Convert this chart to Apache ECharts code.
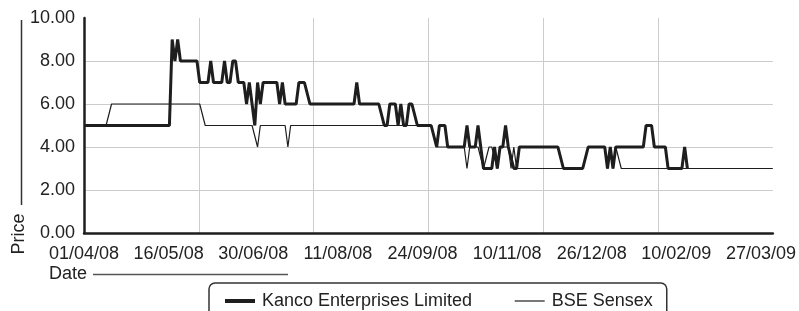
<!DOCTYPE html>
<html lang="en">
<head>
  <meta charset="UTF-8">
  <title>Kanco Enterprises Limited vs BSE Sensex</title>
  <script src="https://cdn.jsdelivr.net/npm/echarts@6/dist/echarts.min.js"></script>
</head>
<body>
<div id="chart"></div>
<style>
  html, body {
    margin: 0;
    width: 100%;
    height: 100%;
    background: #fff;
  }
  #chart {
    width: 799px;
    height: 311px;
  }
</style>
<script>
  // x = trading day index from 01/04/08, y = price
  const kancoDay = [0, 31, 32, 33, 34, 35, 41, 42, 45, 46, 47, 50, 51, 52, 53, 54, 55, 56, 58, 59,
    60, 61, 62, 63, 64, 65, 70, 71, 72, 73, 77, 78, 80, 82, 98, 99, 100, 107, 109, 110,
    111, 113, 114, 115, 116, 117, 118, 119, 121, 126, 128, 129, 131, 132, 138, 139, 140, 142, 143, 145,
    148, 149, 150, 151, 152, 153, 154, 156, 157, 158, 172, 174, 181, 183, 189, 190, 191, 192, 193, 203,
    204, 206, 207, 211, 212, 217, 218, 219];
  const kancoPrice = [5, 5, 9, 8, 9, 8, 8, 7, 7, 8, 7, 7, 8, 7, 7, 8, 8, 7, 7, 6,
    7, 6, 5, 7, 6, 7, 7, 6, 7, 6, 6, 7, 7, 6, 6, 7, 6, 6, 5, 5,
    6, 6, 5, 6, 5, 5, 6, 6, 5, 5, 4, 5, 5, 4, 4, 5, 4, 4, 5, 3,
    3, 4, 3, 4, 4, 5, 4, 3, 3, 4, 4, 3, 3, 4, 4, 3, 4, 3, 4, 4,
    5, 5, 4, 4, 3, 3, 4, 3];

  const sensexDay = [0, 8, 10, 42, 44, 61, 63, 64, 73, 74, 75, 126, 128, 138, 139, 140, 143, 145, 147, 148,
    150, 151, 154, 155, 156, 157, 181, 183, 189, 190, 191, 192, 193, 195, 250];
  const sensexPrice = [5, 5, 6, 6, 5, 5, 4, 5, 5, 4, 5, 5, 4, 4, 3, 4, 4, 3, 4, 4,
    3, 4, 4, 3, 4, 3, 3, 4, 4, 3, 4, 3, 4, 3, 3];

  const dateLabels = ['01/04/08', '16/05/08', '30/06/08', '11/08/08', '24/09/08',
    '10/11/08', '26/12/08', '10/02/09', '27/03/09'];

  const FONT = '"Liberation Sans", Arial, sans-serif';
  const INK = '#1e1e1e';

  function zip(xs, ys) {
    return xs.map((x, i) => [x, ys[i]]);
  }

  const chart = echarts.init(document.getElementById('chart'));
  chart.setOption({
    animation: false,
    textStyle: { fontFamily: FONT },
    grid: { left: 84, right: 24, top: 18, bottom: 78 },
    legend: {
      left: 209,
      top: 283,
      padding: [9, 14, 9, 14],
      itemGap: 42,
      itemWidth: 30,
      itemHeight: 14,
      borderColor: '#333',
      borderWidth: 1.5,
      borderRadius: 6,
      itemStyle: { opacity: 0 },
      textStyle: { fontFamily: FONT, fontSize: 18, color: '#222', padding: [0, 0, 0, 2] },
      data: [
        { name: 'Kanco Enterprises Limited', lineStyle: { width: 4 } },
        { name: 'BSE Sensex', lineStyle: { width: 1.2 } }
      ]
    },
    xAxis: [{
      type: 'value',
      min: 0,
      max: 250,
      position: 'bottom',
      axisLine: { show: true, lineStyle: { color: INK, width: 2.5 } },
      axisTick: { show: false },
      axisLabel: { show: false },
      splitLine: { show: false }
    }, {
      type: 'value',
      min: 0,
      max: 8.14,
      interval: 1,
      position: 'bottom',
      axisLine: { show: false },
      axisTick: { show: false },
      splitLine: { show: false },
      axisLabel: {
        margin: 12,
        fontSize: 18,
        color: '#222',
        fontFamily: FONT,
        formatter: v => dateLabels[v] || ''
      }
    }, {
      type: 'value',
      min: 0,
      max: 6,
      interval: 1,
      position: 'top',
      axisLine: { show: false },
      axisTick: { show: false },
      axisLabel: { show: false },
      splitLine: {
        show: true,
        showMinLine: false,
        showMaxLine: false,
        lineStyle: { color: '#cccccc', width: 1 }
      }
    }],
    yAxis: {
      type: 'value',
      min: 0,
      max: 10,
      interval: 2,
      axisLine: { show: true, lineStyle: { color: INK, width: 2.5 } },
      axisTick: { show: false },
      axisLabel: {
        margin: 9,
        fontSize: 18,
        color: '#222',
        fontFamily: FONT,
        formatter: v => v.toFixed(2)
      },
      splitLine: {
        show: true,
        showMinLine: false,
        showMaxLine: false,
        lineStyle: { color: '#cccccc', width: 1 }
      }
    },
    series: [{
      name: 'Kanco Enterprises Limited',
      type: 'line',
      xAxisIndex: 0,
      symbol: 'none',
      color: INK,
      lineStyle: { color: INK, width: 3 },
      data: zip(kancoDay, kancoPrice)
    }, {
      name: 'BSE Sensex',
      type: 'line',
      xAxisIndex: 0,
      symbol: 'none',
      color: INK,
      lineStyle: { color: INK, width: 1.2 },
      data: zip(sensexDay, sensexPrice)
    }],
    graphic: [
      {
        type: 'text', x: 19, y: 234, rotation: Math.PI / 2,
        style: { text: 'Price', fontSize: 18, fontFamily: FONT, fill: '#222', align: 'center', verticalAlign: 'middle' }
      },
      {
        type: 'line', shape: { x1: 21.5, y1: 20, x2: 21.5, y2: 205 },
        style: { stroke: '#333', lineWidth: 1.5 }
      },
      {
        type: 'text', x: 49, y: 274,
        style: { text: 'Date', fontSize: 18, fontFamily: FONT, fill: '#222', align: 'left', verticalAlign: 'middle' }
      },
      {
        type: 'line', shape: { x1: 93, y1: 274.5, x2: 288, y2: 274.5 },
        style: { stroke: '#555', lineWidth: 1.5 }
      }
    ]
  });
</script>
</body>
</html>
